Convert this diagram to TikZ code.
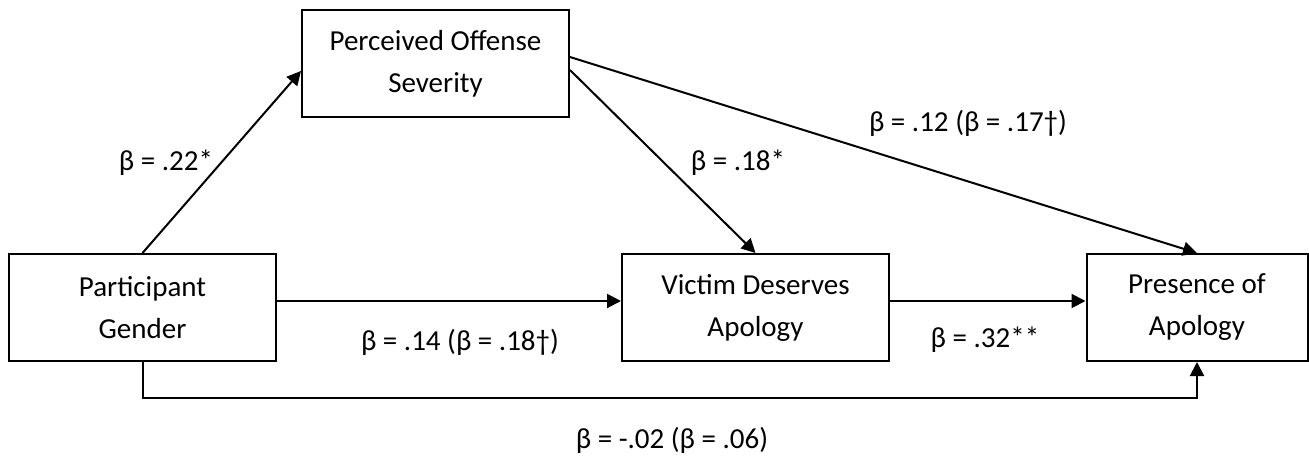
\documentclass[tikz,border=0pt]{standalone}
\usepackage{fontspec}
\setmainfont{Carlito}
\usetikzlibrary{arrows.meta}
\begin{document}
\begin{tikzpicture}[x=1pt,y=-1pt,
  every node/.style={font=\fontsize{29}{42}\selectfont, inner sep=0pt},
  box/.style={draw, line width=2pt, minimum height=107pt, align=center},
  conn/.style={line width=2pt, -{Triangle[length=14pt,width=14pt]}},
  lbl/.style={anchor=center}]
\useasboundingbox (0,0) rectangle (1309,456);
\node[box, minimum width=267pt] (perc) at (435.5,63.5) {Perceived Offense\\Severity};
\node[box, minimum width=267pt] (part) at (142.5,307.5) {Participant\\Gender};
\node[box, minimum width=267pt] (vict) at (755.5,307.5) {Victim Deserves\\Apology};
\node[box, minimum width=221pt] (pres) at (1197,307.5) {Presence of\\Apology};
\draw[conn] (part.north) -- ([yshift=-7.5pt]perc.west);
\draw[conn] ([yshift=-6.5pt]perc.east) -- (vict.north);
\draw[conn] ([yshift=6.5pt]perc.east) -- (pres.north);
\draw[conn] ([yshift=6.5pt]part.east) -- ([yshift=6.5pt]vict.west);
\draw[conn] ([yshift=6.5pt]vict.east) -- ([yshift=6.5pt]pres.west);
\draw[conn] (part.south) -- ++(0,36) -| (pres.south);
\node[lbl] (l1) at (166,163) {β = .22*};
\node[lbl] (l2) at (738,163) {β = .18*};
\node[lbl] (l3) at (968,123) {β = .12 (β = .17†)};
\node[lbl] (l4) at (460,342) {β = .14 (β = .18†)};
\node[lbl] (l5) at (985,340) {β = .32**};
\node[lbl] (l6) at (672,440) {β = -.02 (β = .06)};
\end{tikzpicture}
\end{document}
